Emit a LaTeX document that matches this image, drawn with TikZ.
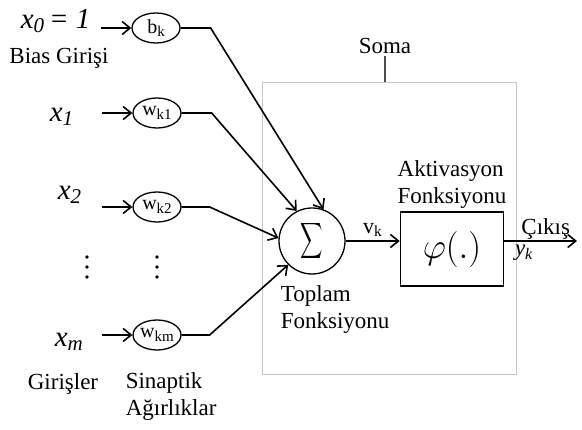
\documentclass[tikz,border=0pt]{standalone}
\usepackage{amsfonts, amsmath}
\usepackage{fontspec}
\setmainfont{Liberation Serif}
\usepackage{tikz}
\usetikzlibrary{arrows.meta,shapes.geometric}

\newcommand{\inpt}[1]{{\fontsize{29}{29}\selectfont\itshape x\raisebox{-0.3ex}{\fontsize{21}{21}\selectfont #1}}}
\newcommand{\wgt}[2]{\makebox[0pt]{\fontsize{20}{20}\selectfont #1\raisebox{-0.35ex}{\fontsize{15}{15}\selectfont #2}}}

\begin{document}
\begin{tikzpicture}[x=1pt,y=-1pt,line width=1.6pt,
  >={Straight Barb[length=8pt,width=13pt]},
  txt/.style={font=\fontsize{23}{27}\selectfont,align=left,inner sep=1pt},
  wt/.style={draw,ellipse,minimum width=48pt,minimum height=30pt,inner sep=0pt,line width=1.3pt}]
  \useasboundingbox (0,0) rectangle (582,430);

  \node[draw=gray!45,line width=1pt,minimum width=254pt,minimum height=292pt] (soma) at (389,229) {};
  \node[txt] (somalbl) at (385,46) {Soma};
  \draw[black!70,line width=1.2pt] (somalbl.south) -- (somalbl.south |- soma.north);

  \node[anchor=base west,inner sep=0pt] (x0) at (20,29) {\inpt{0}{\fontsize{29}{29}\selectfont\itshape\,= 1}};
  \node[anchor=base west,inner sep=0pt] (x1) at (49,122) {\inpt{1}};
  \node[anchor=base west,inner sep=0pt] (x2) at (57,200) {\inpt{2}};
  \node[anchor=base west,inner sep=0pt] (xm) at (54,347) {\inpt{m}};
  \node[txt] (bias) at (59,58) {Bias Girişi};

  \node[wt] (bk) at (156,28) {\wgt{b}{k}};
  \node[wt] (wk1) at (157,113) {\wgt{w}{k1}};
  \node[wt] (wk2) at (157,207) {\wgt{w}{k2}};
  \node[wt] (wkm) at (157,335) {\wgt{w}{km}};
  \foreach \w in {bk,wk1,wk2,wkm}
    \draw[->] (\w.west) ++(-30,0) -- (\w.west);

  \foreach \c in {87,157}
    \foreach \r in {257,267,277}
      \fill (\c,\r) circle (1.8pt);

  \node[draw,circle,minimum size=66pt,inner sep=0pt,line width=1.3pt] (sum) at (312,241)
    {\fontsize{25}{25}\selectfont\scalebox{0.62}[1]{$\displaystyle\sum$}};
  \draw[->] (bk.east) -- ++(30,0) -- (sum.70);
  \draw[->] (wk1.east) -- ++(30,0) -- (sum.117);
  \draw[->] (wk2.east) -- ++(28,0) -- (sum.175);
  \draw[->] (wkm.east) -- ++(28,0) -- (sum.225);
  \node[txt,anchor=north west] (toplam) at (279,284) {Toplam\\Fonksiyonu};

  \node[draw,minimum width=103pt,minimum height=74pt] (act) at (452,249)
    {\fontsize{24}{24}\selectfont\scalebox{1.45}{$\varphi(.)$}};
  \node[txt,anchor=south] (actlbl) at ([yshift=1pt]act.north) {Aktivasyon\\Fonksiyonu};
  \draw[->] (sum.east) -- (sum.east -| act.west)
    node[midway,above,font=\fontsize{22}{22}\selectfont] (vk) {v\textsubscript{k}};

  \coordinate (out) at (577,241);
  \draw[->] (act.east |- out) -- (out)
    node[pos=0.57,above,txt] (cikis) {Çıkış}
    node[pos=0.27,below,yshift=-2pt,font=\fontsize{23}{23}\selectfont\itshape,inner sep=1pt] (yk) {y\textsubscript{k}};

  \node[txt] (girisler) at (63,384) {Girişler};
  \node[txt,anchor=north west] (sinaptik) at (124,371) {Sinaptik\\Ağırlıklar};
\end{tikzpicture}
\end{document}
